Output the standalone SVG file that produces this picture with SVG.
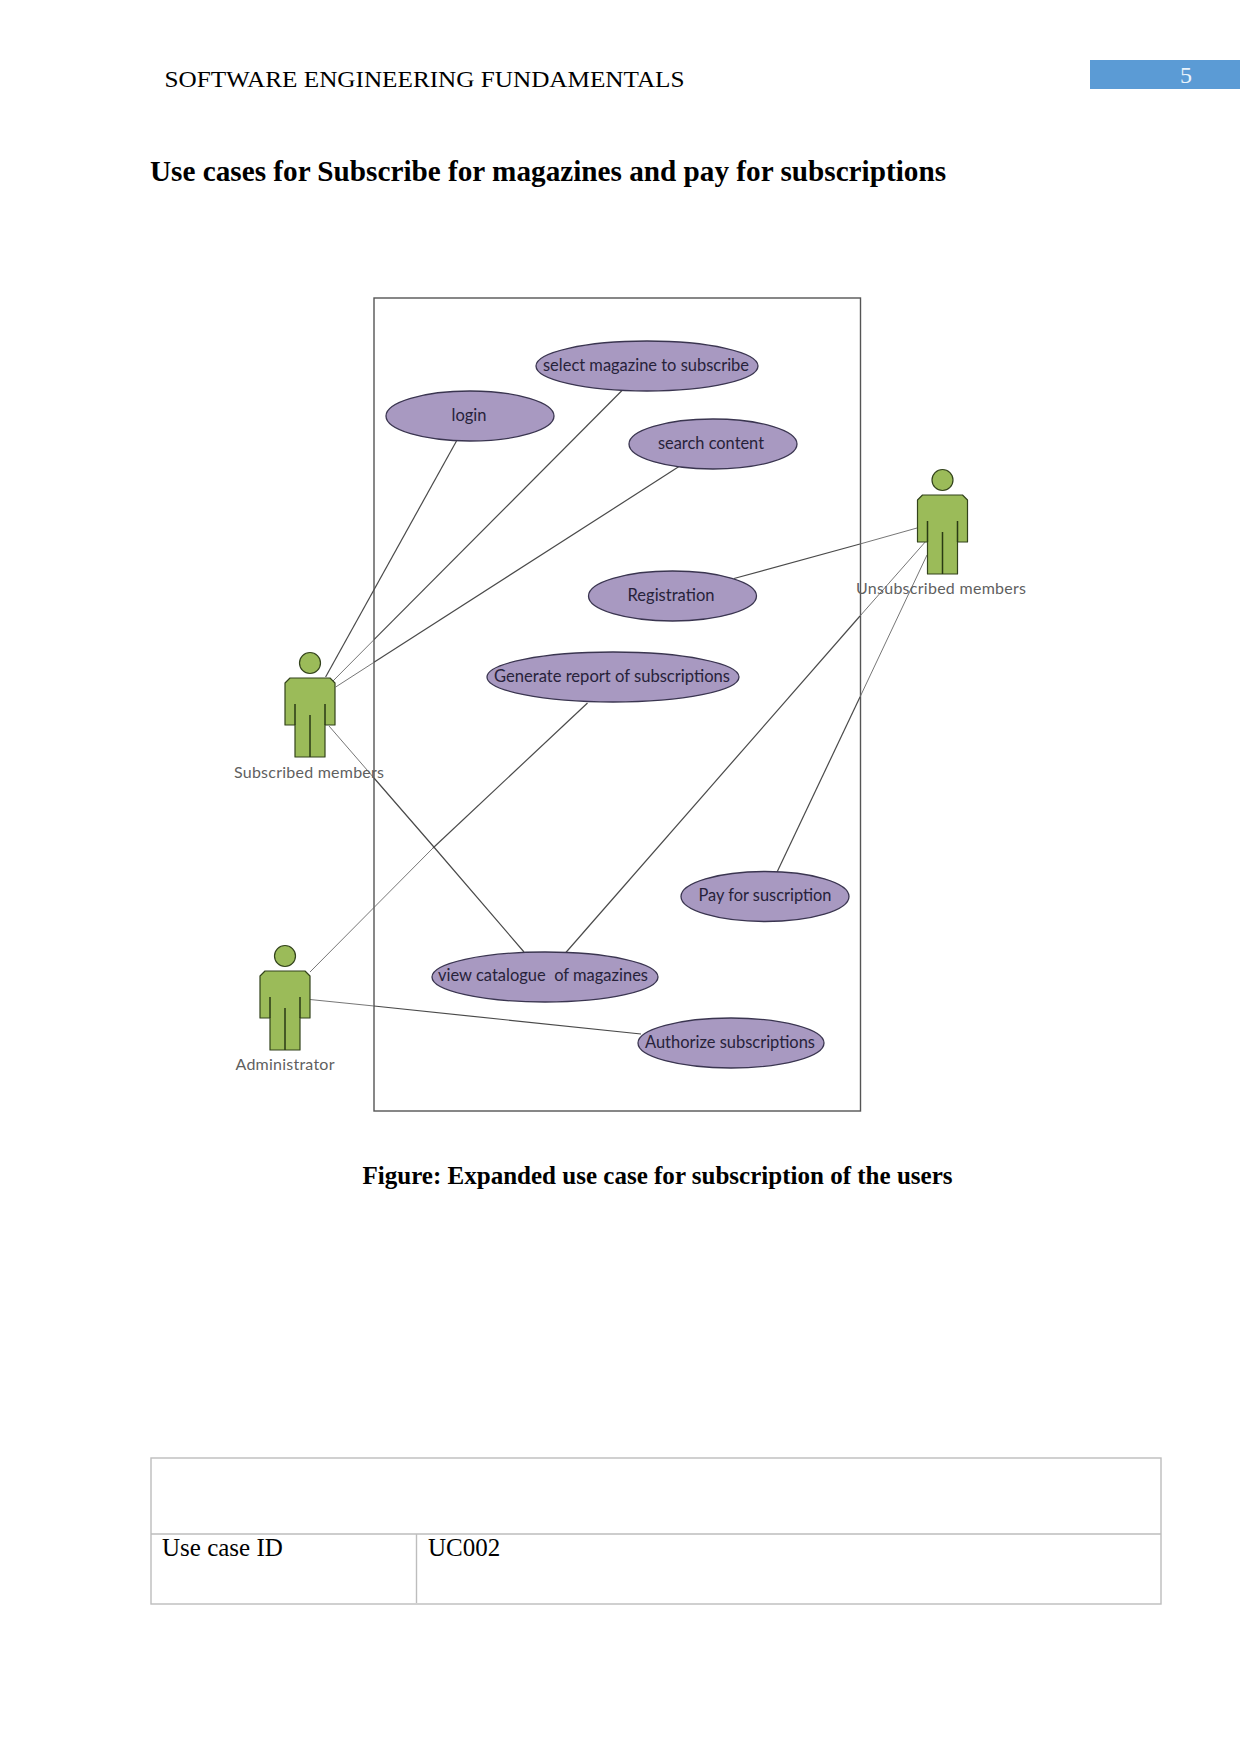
<svg xmlns="http://www.w3.org/2000/svg" width="1241" height="1754" viewBox="0 0 1241 1754">
<style>
text { font-family: Lato, "Liberation Sans", Arial, sans-serif; }
.serif { font-family: "Liberation Serif", "Times New Roman", serif; fill: #000; }
.uc { fill: #a899c1; stroke: #3a3550; stroke-width: 1.3; }
.uct { font-size: 17.5px; fill: #27223a; text-anchor: middle; }
.act { font-size: 16px; fill: #5f5f5f; text-anchor: middle; }
.body { fill: #9bbb59; stroke: #33431c; stroke-width: 1.2; stroke-linejoin: round; }
.limb { fill: none; stroke: #2a3a14; stroke-width: 1.5; }
.cn { fill: none; stroke: #4a4a4a; stroke-width: 1.2; }
.thin { fill: none; stroke: #666; stroke-width: 0.9; }
.grid { fill: none; stroke: #bdbdbd; stroke-width: 1.4; }
</style>
<defs>
<g id="person">
<circle cx="0" cy="-15" r="10.5" class="body"/>
<path class="body" d="M-20,0 L20,0 L25,5 L25,47 L15,47 L15,79 L-15,79 L-15,47 L-25,47 L-25,5 Z"/>
<path class="limb" d="M-15,47 V26 M15,47 V26 M0,79 V37"/>
</g>
</defs>

<g id="page-header">
<text class="serif" x="164.5" y="87" font-size="24" textLength="520" lengthAdjust="spacingAndGlyphs">SOFTWARE ENGINEERING FUNDAMENTALS</text>
<rect x="1090" y="60" width="150" height="29" fill="#5b9bd5"/>
<text class="serif" x="1186" y="83" font-size="24" text-anchor="middle" style="fill:#eaf3fb">5</text>
</g>
<text class="serif" x="150" y="181" font-size="29" font-weight="bold" textLength="796" lengthAdjust="spacingAndGlyphs">Use cases for Subscribe for magazines and pay for subscriptions</text>

<rect id="system-boundary" x="374" y="298" width="486.5" height="813" fill="none" stroke="#555" stroke-width="1.4"/>

<g id="connectors">
<path class="cn" d="M456.5,441 L325.6,677"/>
<path class="cn" d="M622,390.5 L374,639.7"/>
<path class="thin" d="M374,639.7 L331,683"/>
<path class="cn" d="M679,466.6 L374,662.3"/>
<path class="thin" d="M374,662.3 L335.7,687"/>
<path class="thin" d="M329,726 L374,778"/>
<path class="cn" d="M374,778 L433,846 L524,952"/>
<path class="cn" d="M734,578.5 L860,544"/>
<path class="thin" d="M860,544 L917,528"/>
<path class="cn" d="M565,953.5 L860,616"/>
<path class="thin" d="M860,616 L926.5,540.5"/>
<path class="cn" d="M776.6,873 L860,697"/>
<path class="thin" d="M860,697 L927,555"/>
<path class="cn" d="M587.5,703 L433,848"/>
<path class="thin" d="M433,848 L310,972"/>
<path class="thin" d="M310,999.5 L374,1006"/>
<path class="cn" d="M374,1006 L641,1034"/>
</g>

<g id="uc-select"><ellipse class="uc" cx="647" cy="366" rx="111" ry="25"/><text class="uct" x="646" y="371" textLength="206" lengthAdjust="spacingAndGlyphs">select magazine to subscribe</text></g>
<g id="uc-login"><ellipse class="uc" cx="470" cy="416" rx="84" ry="25"/><text class="uct" x="469" y="421" textLength="35" lengthAdjust="spacingAndGlyphs">login</text></g>
<g id="uc-search"><ellipse class="uc" cx="713" cy="444" rx="84" ry="25"/><text class="uct" x="711" y="449" textLength="106" lengthAdjust="spacingAndGlyphs">search content</text></g>
<g id="uc-registration"><ellipse class="uc" cx="672.5" cy="596" rx="84" ry="25"/><text class="uct" x="671" y="601" textLength="87" lengthAdjust="spacingAndGlyphs">Registration</text></g>
<g id="uc-generate"><ellipse class="uc" cx="613" cy="677" rx="126" ry="25"/><text class="uct" x="612" y="682" textLength="236" lengthAdjust="spacingAndGlyphs">Generate report of subscriptions</text></g>
<g id="uc-pay"><ellipse class="uc" cx="765" cy="896.5" rx="84" ry="25"/><text class="uct" x="765" y="901" textLength="133" lengthAdjust="spacingAndGlyphs">Pay for suscription</text></g>
<g id="uc-view"><ellipse class="uc" cx="545" cy="977" rx="113" ry="25"/><text class="uct" x="543" y="981" textLength="210" lengthAdjust="spacingAndGlyphs" xml:space="preserve">view catalogue  of magazines</text></g>
<g id="uc-authorize"><ellipse class="uc" cx="731" cy="1043" rx="93" ry="25"/><text class="uct" x="730" y="1048" textLength="170" lengthAdjust="spacingAndGlyphs">Authorize subscriptions</text></g>

<g id="actor-subscribed"><use href="#person" x="310" y="678"/><text class="act" x="309" y="778" textLength="150" lengthAdjust="spacing">Subscribed members</text></g>
<g id="actor-unsubscribed"><use href="#person" x="942.5" y="495"/><text class="act" x="941" y="594" textLength="170" lengthAdjust="spacing">Unsubscribed members</text></g>
<g id="actor-admin"><use href="#person" x="285" y="971"/><text class="act" x="285" y="1070" textLength="99" lengthAdjust="spacing">Administrator</text></g>

<text class="serif" x="362.5" y="1184" font-size="24.5" font-weight="bold" textLength="590" lengthAdjust="spacingAndGlyphs">Figure: Expanded use case for subscription of the users</text>

<g id="details-table">
<rect class="grid" x="151" y="1458" width="1010" height="146"/>
<path class="grid" d="M151,1534 H1161"/>
<path class="grid" stroke-width="1" d="M416.5,1534 V1603"/>
<text class="serif" x="162" y="1556" font-size="25">Use case ID</text>
<text class="serif" x="428" y="1556" font-size="25">UC002</text>
</g>
</svg>
